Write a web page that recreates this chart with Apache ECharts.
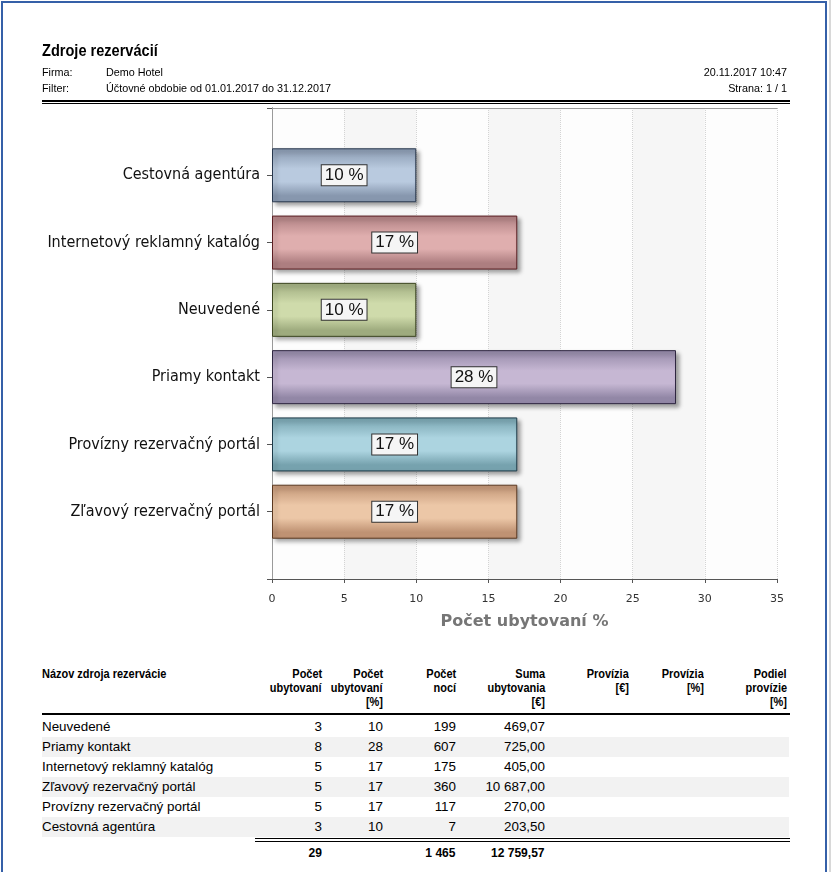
<!DOCTYPE html>
<html>
<head>
<meta charset="utf-8">
<script src="https://cdn.jsdelivr.net/npm/echarts@6/dist/echarts.min.js"></script>
<style>
  html, body { margin:0; padding:0; background:#fff; }
  body { width:831px; height:872px; position:relative; overflow:hidden; font-family:"Liberation Sans", Arial, sans-serif; color:#000; }
  #frame { position:absolute; left:1px; top:1px; width:826px; height:900px; border:2px solid #3560a8; box-sizing:border-box; }
  #strip { position:absolute; left:829px; top:0; width:2px; height:872px; background:#d8d8d8; }
  #chart { position:absolute; left:0; top:0; width:831px; height:640px; }
  .t { position:absolute; white-space:nowrap; line-height:14px; }
  .hl { position:absolute; background:#000; }
  .band { position:absolute; left:42px; width:747px; height:20px; background:#f2f2f2; }
</style>
</head>
<body>
<div id="frame"></div>
<div id="strip"></div>
<div id="chart"></div>
<div id="overlay"></div>
<script>
// ---- chart data ----
const categories = ['Cestovná agentúra', 'Internetový reklamný katalóg', 'Neuvedené', 'Priamy kontakt', 'Provízny rezervačný portál', 'Zľavový rezervačný portál'];
const percentValues = [10, 17, 10, 28, 17, 17];
const xTicks = [0, 5, 10, 15, 20, 25, 30, 35];

// ---- table data ----
const tableNames = ['Neuvedené', 'Priamy kontakt', 'Internetový reklamný katalóg', 'Zľavový rezervačný portál', 'Provízny rezervačný portál', 'Cestovná agentúra'];
const tableCount = ['3', '8', '5', '5', '5', '3'];
const tablePct = ['10', '28', '17', '17', '17', '10'];
const tableNights = ['199', '607', '175', '360', '117', '7'];
const tableSum = ['469,07', '725,00', '405,00', '10 687,00', '270,00', '203,50'];
const totals = { count: '29', nights: '1 465', sum: '12 759,57' };

// ---- styles (colors per bar: [edge, middle, border]) ----
const barColors = [
  ['#8797ae', '#b9cadf', '#27374d'],
  ['#ad7e80', '#dfaeae', '#5a1e22'],
  ['#9eab7e', '#cfdbab', '#3c4620'],
  ['#9287a6', '#c6b7d3', '#2e2640'],
  ['#76a2ae', '#acd4e0', '#1d3a48'],
  ['#bf9273', '#ecc7a7', '#5a3820']
];

const chart = echarts.init(document.getElementById('chart'), null, { renderer: 'canvas' });
const yCats = [''].concat(categories, ['']);
const seriesData = ['-'].concat(percentValues.map((v, i) => ({
  value: v,
  itemStyle: {
    color: new echarts.graphic.LinearGradient(0, 0, 0, 1, [
      { offset: 0, color: barColors[i][0] },
      { offset: 0.38, color: barColors[i][1] },
      { offset: 0.62, color: barColors[i][1] },
      { offset: 0.88, color: barColors[i][0] },
      { offset: 1, color: barColors[i][0] }
    ]),
    borderColor: barColors[i][2],
    borderWidth: 1,
    shadowColor: 'rgba(0,0,0,0.35)',
    shadowBlur: 4,
    shadowOffsetX: 3,
    shadowOffsetY: 3
  }
})), ['-']);

const frameAxisLine = { show: true, lineStyle: { color: '#9a9a9a', width: 1 } };
chart.setOption({
  animation: false,
  backgroundColor: 'transparent',
  grid: { left: 272, top: 108, width: 505, height: 471 },
  xAxis: [{
    type: 'value', min: xTicks[0], max: xTicks[xTicks.length - 1], interval: 5,
    name: 'Počet ubytovaní %', nameLocation: 'middle', nameGap: 35,
    nameTextStyle: { fontFamily: 'DejaVu Sans', fontSize: 16, fontWeight: 'bold', color: '#767676' },
    axisLine: { show: true, lineStyle: { color: '#555', width: 1 } },
    axisTick: { show: true, length: 4, lineStyle: { color: '#555' } },
    axisLabel: { fontFamily: 'DejaVu Sans', fontSize: 11, color: '#333', margin: 15 },
    splitLine: { show: true, lineStyle: { color: '#d4d4d4', type: [1, 1] } },
    splitArea: { show: true, areaStyle: { color: ['#fdfdfd', '#f6f6f6'] } }
  }, {
    type: 'value', position: 'top', min: xTicks[0], max: xTicks[xTicks.length - 1],
    axisLine: frameAxisLine, axisTick: { show: false }, axisLabel: { show: false }, splitLine: { show: false }
  }],
  yAxis: [{
    type: 'category', data: yCats, inverse: true, boundaryGap: false,
    axisLine: { show: true, lineStyle: { color: '#555', width: 1 } },
    axisTick: { show: true, length: 5, lineStyle: { color: '#555' } },
    axisLabel: { fontFamily: '"DejaVu Sans Condensed", "DejaVu Sans"', fontSize: 16, color: '#111', margin: 12 },
    splitLine: { show: true, lineStyle: { color: '#d4d4d4', type: [1, 1] } }
  }, {
    type: 'value', position: 'right',
    axisLine: frameAxisLine, axisTick: { show: false }, axisLabel: { show: false }, splitLine: { show: false }
  }],
  series: [{
    type: 'bar', data: seriesData, barWidth: 54, xAxisIndex: 0, yAxisIndex: 0,
    label: {
      show: true, position: 'inside', formatter: '{c} %',
      fontFamily: 'Liberation Sans', fontSize: 17, color: '#111',
      backgroundColor: '#f5f5f5', borderColor: '#333', borderWidth: 1,
      padding: [2, 3, 1, 3]
    }
  }]
});

// ---- HTML header and table ----
const ov = document.getElementById('overlay');
function txt(s, x, y, opts) {
  opts = opts || {};
  const d = document.createElement('div');
  d.className = 't';
  d.textContent = s;
  d.style.fontSize = (opts.size || 12) + 'px';
  if (opts.bold) d.style.fontWeight = 'bold';
  d.style.top = (y - 7) + 'px';
  if (opts.right) { d.style.right = (831 - x) + 'px'; d.style.textAlign = 'right'; d.style.transformOrigin = 'right center'; }
  else { d.style.left = x + 'px'; d.style.transformOrigin = 'left center'; }
  if (opts.sx) d.style.transform = 'scaleX(' + opts.sx + ')';
  ov.appendChild(d);
  return d;
}
function line(x, y, w, h) {
  const d = document.createElement('div');
  d.className = 'hl';
  d.style.left = x + 'px'; d.style.top = y + 'px'; d.style.width = w + 'px'; d.style.height = h + 'px';
  ov.appendChild(d);
}
txt('Zdroje rezervácií', 42, 51, { size: 16, bold: true, sx: 0.91 });
txt('Firma:', 42, 72, { size: 10.8 });
txt('Demo Hotel', 106, 72, { size: 10.8 });
txt('Filter:', 42, 88, { size: 10.8 });
txt('Účtovné obdobie od 01.01.2017 do 31.12.2017', 106, 88, { size: 10.8 });
txt('20.11.2017 10:47', 787, 72, { size: 10.8, right: true });
txt('Strana: 1 / 1', 787, 88, { size: 10.8, right: true });
line(42, 100, 748, 2);
line(42, 103, 748, 1);

// table
for (let i = 0; i < tableNames.length; i++) {
  if (i % 2 === 1) {
    const b = document.createElement('div');
    b.className = 'band';
    b.style.top = (717 + 20 * i) + 'px';
    ov.appendChild(b);
  }
}
const hdr = [
  [['Názov zdroja rezervácie'], 42, false],
  [['Počet', 'ubytovaní'], 322, true],
  [['Počet', 'ubytovaní', '[%]'], 383, true],
  [['Počet', 'nocí'], 456, true],
  [['Suma', 'ubytovania', '[€]'], 545, true],
  [['Provízia', '[€]'], 629, true],
  [['Provízia', '[%]'], 704, true],
  [['Podiel', 'provízie', '[%]'], 787, true]
];
hdr.forEach(h => {
  h[0].forEach((s, k) => txt(s, h[1], 674 + 14 * k, { size: 12.2, bold: true, right: h[2], sx: 0.9 }));
});
line(42, 713, 748, 2);
const colRight = [322, 383, 456, 545];
for (let i = 0; i < tableNames.length; i++) {
  const y = 727 + 20 * i;
  txt(tableNames[i], 42, y, { size: 13.4 });
  txt(tableCount[i], colRight[0], y, { size: 13.4, right: true });
  txt(tablePct[i], colRight[1], y, { size: 13.4, right: true });
  txt(tableNights[i], colRight[2], y, { size: 13.4, right: true });
  txt(tableSum[i], colRight[3], y, { size: 13.4, right: true });
}
line(255, 838, 535, 1);
line(255, 841, 535, 1);
txt(totals.count, colRight[0], 853, { size: 13.4, bold: true, right: true, sx: 0.9 });
txt(totals.nights, colRight[2], 853, { size: 13.4, bold: true, right: true, sx: 0.9 });
txt(totals.sum, colRight[3], 853, { size: 13.4, bold: true, right: true, sx: 0.9 });
</script>
</body>
</html>
